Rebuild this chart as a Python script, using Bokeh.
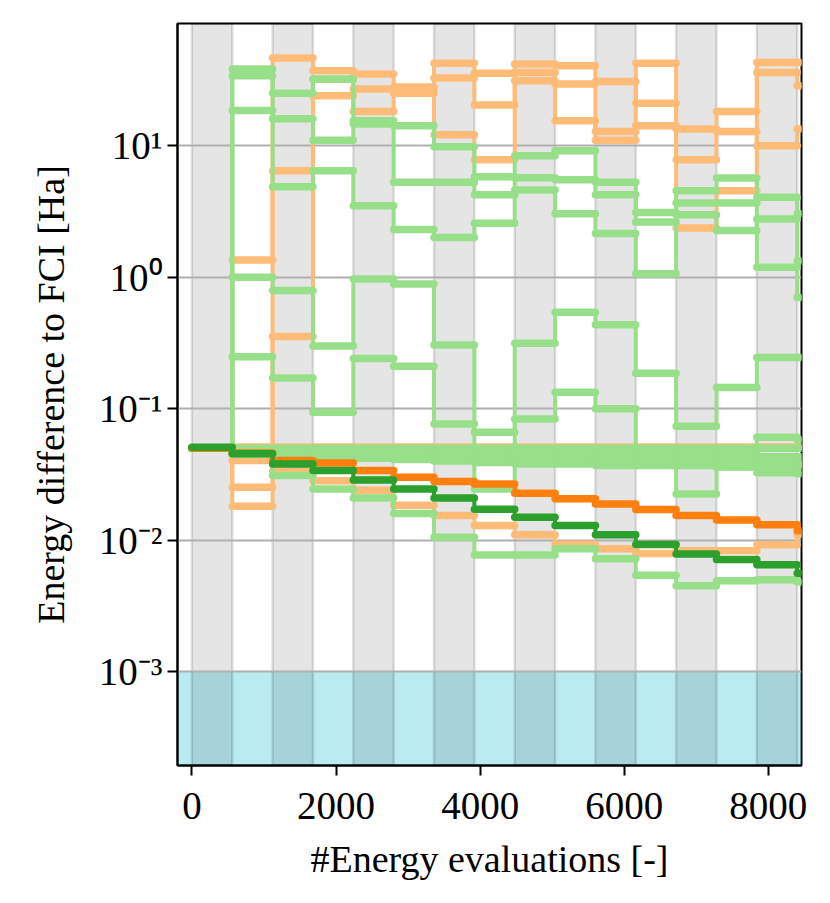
from bokeh.plotting import figure
from bokeh.models import Range1d, FixedTicker, CustomJSTickFormatter
from bokeh.embed import file_html
from bokeh.resources import INLINE

# ---------------- data ----------------
STEP = 560                      # evaluations per step
N_SEG = 16
edges = [STEP * i for i in range(N_SEG + 1)]

# light orange runs (individual runs, series 1)
orange_u1 = [0.05, 1.35, 46.4, 37.2, 35.1, 28.0, 42.3, 35.5, 41.9, 40.5, 11.0, 42.3, 2.37, 4.55, 43.0, 43.0]
orange_u2 = [0.05, 0.0403, 6.46, 32.0, 27.0, 25.0, 32.7, 20.4, 31.2, 29.4, 30.8, 21.0, 7.83, 18.2, 36.0, 28.6]
orange_u3 = [0.05, 0.0181, 0.353, 24.0, 18.2, 27.0, 12.1, 7.83, 36.0, 15.5, 12.8, 14.2, 13.4, 12.8, 10.0, 13.4]
orange_l1 = [0.05, 0.0252, 0.0338, 0.0283, 0.0239, 0.0184, 0.0154, 0.0129, 0.011, 0.0093, 0.0086, 0.0079, 0.0083, 0.0083, 0.0092, 0.011]
orange_b1 = [0.05, 0.051, 0.051, 0.051, 0.051, 0.051, 0.051, 0.051, 0.051, 0.051, 0.051, 0.051, 0.051, 0.051, 0.051, 0.051]
orange_b2 = [0.05, 0.048, 0.046, 0.045, 0.044, 0.043, 0.042, 0.041, 0.040, 0.040, 0.039, 0.039, 0.038, 0.038, 0.038, 0.038]
light_orange_runs = [orange_b1, orange_b2, orange_u1, orange_u2, orange_u3, orange_l1]

# light green runs (individual runs, series 2)
green_h1 = [0.05, 38.3, 4.87, 6.46, 3.5, 2.3, 2.0, 2.57, 8.4, 9.16, 5.26, 3.11, 4.55, 5.68, 4.05, 3.03]
green_h2 = [0.05, 34.0, 25.0, 32.1, 15.5, 14.2, 9.83, 5.8, 5.7, 5.5, 4.24, 2.63, 2.98, 2.26, 2.77, 1.33]
green_h3 = [0.05, 18.5, 16.0, 11.0, 14.6, 5.26, 5.26, 4.24, 4.6, 3.03, 2.15, 1.06, 3.66, 3.66, 1.19, 0.70]
green_a = [0.05, 1.0, 0.79, 0.30, 0.969, 0.888, 0.305, 0.0245, 0.314, 0.54, 0.435, 0.186, 0.0735, 0.145, 0.245, 0.245]
green_b = [0.05, 0.248, 0.171, 0.094, 0.241, 0.21, 0.0765, 0.066, 0.0835, 0.133, 0.1, 0.045, 0.0224, 0.0362, 0.0325, 0.032]
green_low = [0.05, 0.045, 0.031, 0.0245, 0.0209, 0.0159, 0.0105, 0.0077, 0.0077, 0.0086, 0.0072, 0.0054, 0.0045, 0.0049, 0.0050, 0.0048]
green_b1 = [0.05, 0.05, 0.05, 0.05, 0.05, 0.05, 0.05, 0.05, 0.05, 0.05, 0.05, 0.05, 0.05, 0.05, 0.05, 0.05]
green_b2 = [0.05, 0.047, 0.046, 0.046, 0.045, 0.045, 0.045, 0.045, 0.044, 0.044, 0.044, 0.044, 0.043, 0.043, 0.043, 0.043]
green_b3 = [0.05, 0.046, 0.044, 0.043, 0.043, 0.042, 0.042, 0.041, 0.041, 0.040, 0.040, 0.040, 0.039, 0.039, 0.039, 0.039]
green_b4 = [0.05, 0.048, 0.045, 0.043, 0.042, 0.041, 0.040, 0.039, 0.038, 0.038, 0.037, 0.037, 0.037, 0.036, 0.036, 0.036]
green_b5 = [0.05, 0.049, 0.048, 0.047, 0.046, 0.046, 0.045, 0.045, 0.044, 0.044, 0.044, 0.044, 0.044, 0.045, 0.0605, 0.058]
light_green_runs = [green_b1, green_b2, green_b3, green_b4, green_b5,
                    green_h1, green_h2, green_h3, green_a, green_b, green_low]

# aggregated runs
dark_orange = [0.05, 0.046, 0.0403, 0.0386, 0.0338, 0.030, 0.0279, 0.0267, 0.0227, 0.0206, 0.0188, 0.0171, 0.0154, 0.0142, 0.0131, 0.0118]
dark_green = [0.0508, 0.0453, 0.038, 0.0338, 0.0287, 0.0245, 0.0209, 0.0172, 0.0149, 0.0129, 0.011, 0.00925, 0.00785, 0.00711, 0.00648, 0.0056]

x_ticks = [0, 2000, 4000, 6000, 8000]
y_ticks = [1e-3, 1e-2, 1e-1, 1e0, 1e1]
XMIN, XMAX = -200, 8460
YMIN, YMAX = 1.93e-4, 85
THRESHOLD = 1e-3

C_LO, C_LG, C_DO, C_DG = "#ffbb78", "#98df8a", "#ff7f0e", "#2ca02c"
FONT = "Liberation Serif"

# ---------------- figure ----------------
p = figure(frame_width=624, frame_height=742,
           x_range=Range1d(XMIN, XMAX), y_range=Range1d(YMIN, YMAX),
           y_axis_type="log", output_backend="svg", toolbar_location=None,
           min_border_left=177, min_border_top=23, min_border_right=21,
           min_border_bottom=128)
p.background_fill_color = "white"
p.border_fill_color = "white"
p.outline_line_color = "black"
p.outline_line_width = 2
p.outline_line_alpha = 1.0

# chemical-accuracy region
p.quad(left=[XMIN], right=[XMAX], bottom=[YMIN], top=[THRESHOLD],
       fill_color="#17becf", fill_alpha=0.3, line_color=None, level="image")

# alternating bands
band_left = edges[0:N_SEG:2]
band_right = [b + STEP for b in band_left]
p.quad(left=band_left, right=band_right, bottom=[YMIN] * len(band_left), top=[YMAX] * len(band_left),
       fill_color="black", fill_alpha=0.1, line_color="black", line_alpha=0.12,
       line_width=2.5, level="image")


def draw_run(vals, color):
    ys = list(vals) + [vals[-1]]
    p.step(edges, ys, mode="after", line_color=color, line_width=4, line_join="round")
    p.segment(x0=edges[:-1], x1=edges[1:], y0=vals, y1=vals,
              line_color=color, line_width=7.5, line_cap="round")


for r in light_orange_runs:
    draw_run(r, C_LO)
for r in light_green_runs:
    draw_run(r, C_LG)
draw_run(dark_orange, C_DO)
draw_run(dark_green, C_DG)

# grid
p.xgrid.visible = False
p.ygrid.ticker = FixedTicker(ticks=y_ticks, minor_ticks=[])
p.ygrid.grid_line_color = "#b0b0b0"
p.ygrid.grid_line_width = 2

# axes
p.xaxis.ticker = FixedTicker(ticks=x_ticks, minor_ticks=[])
p.yaxis.ticker = FixedTicker(ticks=y_ticks, minor_ticks=[])
p.yaxis.formatter = CustomJSTickFormatter(code="""
const e = Math.round(Math.log10(tick));
const sup = {'-':'\u207b','0':'\u2070','1':'\u00b9','2':'\u00b2','3':'\u00b3','4':'\u2074',
             '5':'\u2075','6':'\u2076','7':'\u2077','8':'\u2078','9':'\u2079'};
return '10' + String(e).split('').map(c => sup[c]).join('');
""")
p.xaxis.axis_label = "#Energy evaluations [-]"
p.yaxis.axis_label = "Energy difference to FCI [Ha]"
for ax in (p.xaxis, p.yaxis):
    ax.axis_line_width = 2
    ax.axis_line_color = "black"
    ax.major_tick_out = 10
    ax.major_tick_in = 0
    ax.major_tick_line_width = 2
    ax.minor_tick_out = 0
    ax.minor_tick_in = 0
    ax.major_label_text_font = FONT
    ax.major_label_text_font_size = "39px"
    ax.major_label_text_color = "black"
    ax.axis_label_text_font = FONT
    ax.axis_label_text_font_size = "38px"
    ax.axis_label_text_font_style = "normal"
    ax.axis_label_text_color = "black"
p.xaxis.major_label_standoff = 17
p.yaxis.major_label_standoff = 5
p.xaxis.axis_label_standoff = 16
p.yaxis.axis_label_standoff = 24

open("out.html", "w").write(file_html(p, INLINE))
